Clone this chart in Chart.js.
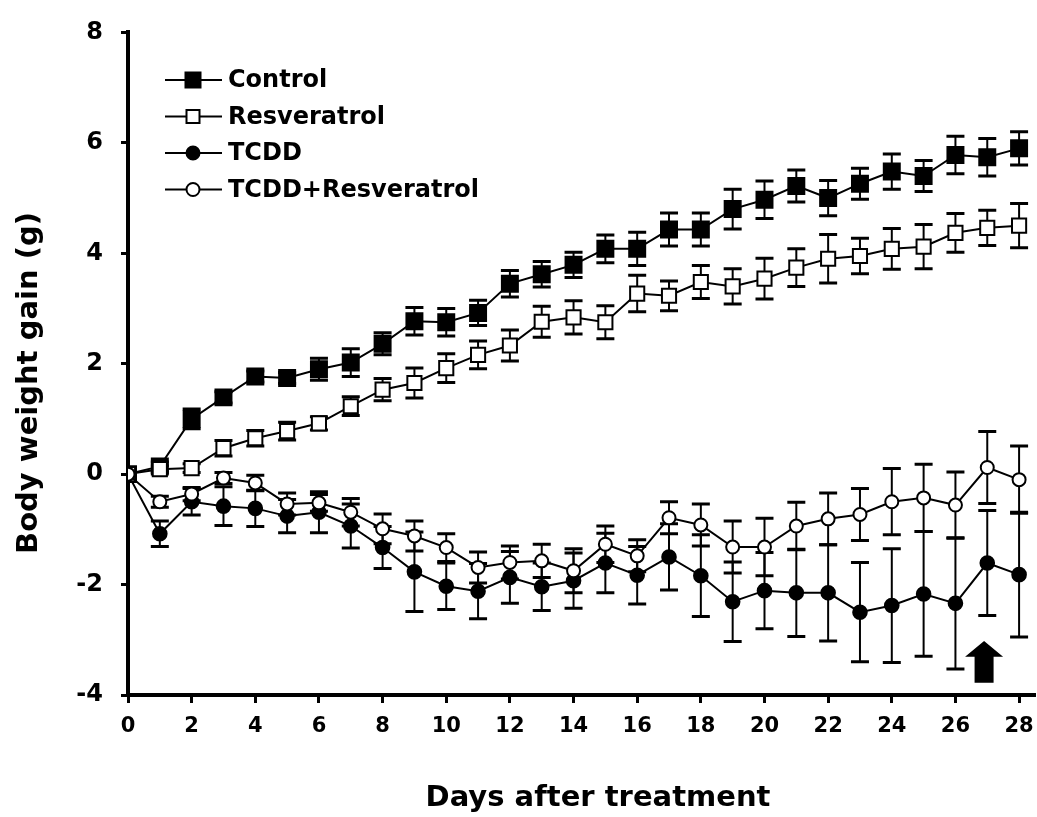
<!DOCTYPE html>
<html>
<head>
<meta charset="utf-8">
<script src="https://cdn.jsdelivr.net/npm/chart.js@4.4.1/dist/chart.umd.min.js"></script>
<style>
html,body{margin:0;padding:0;background:#fff;}
#wrap{width:1037px;height:817px;position:relative;}
</style>
</head>
<body>
<div id="wrap"><canvas id="c" width="1037" height="817"></canvas></div>
<script>
// ---------- data ----------
const days = [0,1,2,3,4,5,6,7,8,9,10,11,12,13,14,15,16,17,18,19,20,21,22,23,24,25,26,27,28];
const xTickValues = [0,2,4,6,8,10,12,14,16,18,20,22,24,26,28];
const yTickValues = [-4,-2,0,2,4,6,8];
const seriesNames = ['Control','Resveratrol','TCDD','TCDD+Resveratrol'];

const control    = [0,0.14,1.0,1.39,1.77,1.74,1.9,2.02,2.36,2.77,2.75,2.92,3.45,3.62,3.79,4.08,4.08,4.43,4.43,4.8,4.97,5.22,5.0,5.26,5.48,5.4,5.78,5.74,5.9];
const controlErr = [0,0.08,0.18,0.1,0.1,0.1,0.2,0.25,0.2,0.25,0.25,0.23,0.24,0.23,0.23,0.25,0.3,0.3,0.3,0.36,0.34,0.29,0.32,0.28,0.32,0.28,0.34,0.34,0.3];

const resveratrol    = [0,0.09,0.11,0.47,0.65,0.78,0.92,1.23,1.53,1.65,1.92,2.16,2.33,2.76,2.84,2.75,3.27,3.23,3.48,3.4,3.54,3.74,3.9,3.95,4.08,4.12,4.37,4.46,4.5];
const resveratrolErr = [0,0.06,0.08,0.14,0.14,0.16,0.12,0.17,0.2,0.27,0.26,0.25,0.28,0.28,0.3,0.3,0.33,0.27,0.3,0.32,0.37,0.34,0.44,0.32,0.37,0.4,0.35,0.32,0.4];

const tcdd    = [0,-1.08,-0.5,-0.58,-0.62,-0.76,-0.69,-0.94,-1.33,-1.77,-2.03,-2.12,-1.87,-2.04,-1.93,-1.61,-1.83,-1.5,-1.84,-2.31,-2.11,-2.15,-2.15,-2.5,-2.38,-2.17,-2.34,-1.61,-1.82];
const tcddErr = [0,0.23,0.24,0.35,0.33,0.3,0.37,0.4,0.38,0.72,0.42,0.5,0.47,0.43,0.5,0.54,0.52,0.6,0.74,0.72,0.69,0.79,0.87,0.9,1.03,1.13,1.19,0.95,1.13];

const tcddRes    = [0,-0.5,-0.36,-0.07,-0.16,-0.54,-0.52,-0.69,-0.99,-1.12,-1.33,-1.69,-1.6,-1.57,-1.75,-1.27,-1.48,-0.79,-0.92,-1.32,-1.32,-0.94,-0.81,-0.73,-0.5,-0.43,-0.56,0.12,-0.1];
const tcddResErr = [0,0.1,0.12,0.1,0.14,0.2,0.15,0.25,0.27,0.27,0.25,0.28,0.3,0.3,0.4,0.33,0.29,0.29,0.38,0.47,0.52,0.43,0.47,0.47,0.6,0.61,0.6,0.65,0.61];

const xTitle = 'Days after treatment';
const yTitle = 'Body weight gain (g)';

// annotation arrow (day, tip value, tail value)
const arrowDay = 26.9;
const arrowTip = -3.02;
const arrowTail = -3.78;

// ---------- chart ----------
const FONT = "'DejaVu Sans', 'Liberation Sans', Arial, sans-serif";

function pts(arr){ return days.map((d,i)=>({x:d, y:arr[i]})); }

function mkDataset(label, values, errs, style, filled, radius, order){
  return {
    label: label,
    data: pts(values),
    errors: errs,
    borderColor: '#000',
    borderWidth: 2,
    backgroundColor: '#000',
    pointStyle: style,
    pointRadius: radius,
    pointHoverRadius: radius,
    pointBackgroundColor: filled ? '#000' : '#fff',
    pointBorderColor: '#000',
    pointBorderWidth: 2,
    fill: false,
    tension: 0,
    order: order
  };
}

// let the x axis run to the right edge of the canvas, as in the original figure
const stretchPlugin = {
  id: 'stretchX',
  afterLayout(chart){
    const xs = chart.scales.x;
    const target = chart.width - 2;
    xs.right = target;
    xs.width = target - xs.left;
    xs.configure();
    chart.chartArea.right = target;
    chart.chartArea.width = target - chart.chartArea.left;
  }
};

const errorBarPlugin = {
  id: 'errorBars',
  beforeDatasetsDraw(chart){
    const ctx = chart.ctx, xs = chart.scales.x, ys = chart.scales.y;
    ctx.save();
    ctx.strokeStyle = '#000';
    chart.data.datasets.forEach(ds=>{
      const errs = ds.errors;
      if(!errs) return;
      ds.data.forEach((p,j)=>{
        const e = errs[j];
        if(!e) return;
        const px = xs.getPixelForValue(p.x);
        const yt = ys.getPixelForValue(p.y + e);
        const yb = ys.getPixelForValue(p.y - e);
        ctx.lineWidth = 2;
        ctx.beginPath(); ctx.moveTo(px, yt); ctx.lineTo(px, yb); ctx.stroke();
        ctx.lineWidth = 3;
        ctx.beginPath();
        ctx.moveTo(px-9, yt); ctx.lineTo(px+9, yt);
        ctx.moveTo(px-9, yb); ctx.lineTo(px+9, yb);
        ctx.stroke();
      });
    });
    ctx.restore();
  }
};

const overlayPlugin = {
  id: 'overlay',
  afterDraw(chart){
    const ctx = chart.ctx, xs = chart.scales.x, ys = chart.scales.y;
    ctx.save();
    // arrow
    const ax = xs.getPixelForValue(arrowDay);
    const aTip = ys.getPixelForValue(arrowTip);
    const aTail = ys.getPixelForValue(arrowTail);
    const headH = (aTail - aTip) * 0.38;
    ctx.fillStyle = '#000';
    ctx.beginPath();
    ctx.moveTo(ax, aTip);
    ctx.lineTo(ax + 19, aTip + headH);
    ctx.lineTo(ax + 9.5, aTip + headH);
    ctx.lineTo(ax + 9.5, aTail);
    ctx.lineTo(ax - 9.5, aTail);
    ctx.lineTo(ax - 9.5, aTip + headH);
    ctx.lineTo(ax - 19, aTip + headH);
    ctx.closePath();
    ctx.fill();

    // legend
    const styles = [['rect',true],['rect',false],['circle',true],['circle',false]];
    ctx.font = 'bold 24px ' + FONT;
    ctx.textBaseline = 'middle';
    ctx.textAlign = 'left';
    seriesNames.forEach((name,i)=>{
      const y = 80 + i*36.5;
      ctx.strokeStyle = '#000';
      ctx.lineWidth = 2;
      ctx.beginPath(); ctx.moveTo(165, y); ctx.lineTo(222, y); ctx.stroke();
      const [st, filled] = styles[i];
      ctx.fillStyle = filled ? '#000' : '#fff';
      ctx.beginPath();
      if(st === 'rect'){
        const s = filled ? 7.5 : 6.5;
        ctx.rect(193 - s, y - s, 2*s, 2*s);
      } else {
        ctx.arc(193, y, 6.5, 0, Math.PI*2);
      }
      ctx.fill();
      ctx.stroke();
      ctx.fillStyle = '#000';
      ctx.fillText(name, 228, y + 1);
    });

    // axis titles
    ctx.fillStyle = '#000';
    ctx.font = 'bold 29px ' + FONT;
    ctx.textAlign = 'center';
    ctx.textBaseline = 'middle';
    ctx.fillText(xTitle, 598, 798);
    ctx.save();
    ctx.translate(29, 383);
    ctx.rotate(-Math.PI/2);
    ctx.font = 'bold 29px ' + FONT;
    ctx.fillText(yTitle, 0, 0);
    ctx.restore();
    ctx.restore();
  }
};

new Chart(document.getElementById('c'), {
  type: 'line',
  data: {
    datasets: [
      mkDataset(seriesNames[0], control, controlErr, 'rect', true, 11.3, 3),
      mkDataset(seriesNames[1], resveratrol, resveratrolErr, 'rect', false, 10, 1),
      mkDataset(seriesNames[2], tcdd, tcddErr, 'circle', true, 6.8, 2),
      mkDataset(seriesNames[3], tcddRes, tcddResErr, 'circle', false, 6.5, 0)
    ]
  },
  options: {
    responsive: false,
    devicePixelRatio: 1,
    animation: false,
    layout: { padding: { top: 30, right: 2, left: 0, bottom: 0 } },
    plugins: { legend: { display: false }, tooltip: { enabled: false }, title: { display: false } },
    scales: {
      x: {
        type: 'linear',
        min: 0, max: 28.5,
        afterBuildTicks(scale){ scale.ticks = xTickValues.map(v=>({value:v})); },
        afterFit(scale){ scale.height = 122; },
        ticks: {
          color: '#000',
          font: { family: FONT, size: 21, weight: 'bold' },
          padding: 11,
          maxRotation: 0,
          autoSkip: false,
          callback: (v)=> String(v)
        },
        grid: { display: true, drawOnChartArea: false, drawTicks: true, tickLength: 8, tickWidth: 3, tickColor: '#000' },
        border: { display: true, width: 4, color: '#000' }
      },
      y: {
        type: 'linear',
        min: -4, max: 8,
        afterBuildTicks(scale){ scale.ticks = yTickValues.map(v=>({value:v})); },
        afterFit(scale){ scale.width = 128; },
        ticks: {
          color: '#000',
          font: { family: FONT, size: 24, weight: 'bold' },
          padding: 18,
          autoSkip: false,
          callback: (v)=> String(v)
        },
        grid: { display: true, drawOnChartArea: false, drawTicks: true, tickLength: 7, tickWidth: 3, tickColor: '#000' },
        border: { display: true, width: 4, color: '#000' }
      }
    }
  },
  plugins: [stretchPlugin, errorBarPlugin, overlayPlugin]
});
</script>
</body>
</html>
